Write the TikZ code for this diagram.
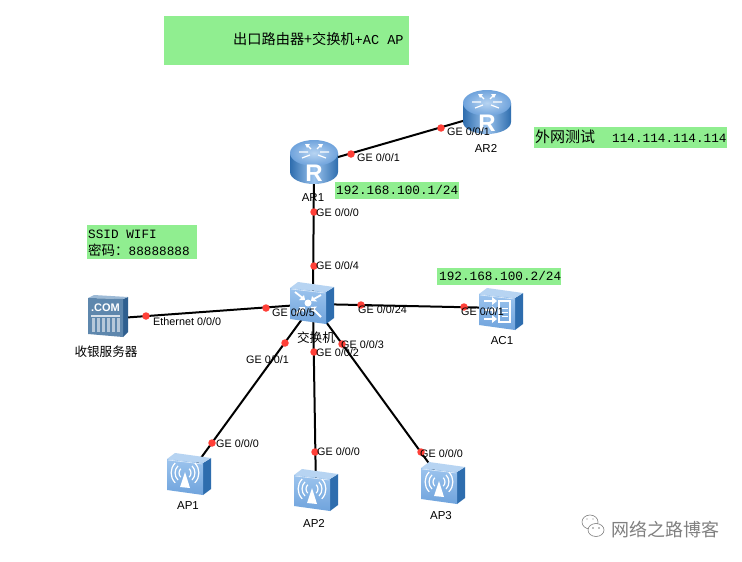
\documentclass[tikz,border=0pt]{standalone}
\usepackage{fontspec}
\setmainfont{Liberation Sans}
\setmonofont{Liberation Mono}
\newfontfamily\cjk{Noto Sans CJK SC}
\definecolor{bannergreen}{HTML}{90EE90}
\definecolor{portred}{HTML}{FF4038}
\definecolor{iconlight}{HTML}{9CC4EE}
\definecolor{iconmid}{HTML}{6FA3DC}
\definecolor{icondark}{HTML}{2E6DAE}
\definecolor{icontop}{HTML}{B7D4F2}
\definecolor{srvfront}{HTML}{5E87AD}
\definecolor{srvside}{HTML}{2F5F8F}
\definecolor{srvtop}{HTML}{9DBAD6}
\definecolor{wm}{HTML}{808080}
\tikzset{
  x=1pt,y=-1pt,
  devpoint/.style={inner sep=0pt,minimum size=0pt,outer sep=0pt},
  link/.style={line width=2pt,black},
  portdot/.style={circle,fill=portred,inner sep=0pt,minimum size=7.5pt},
  portlbl/.style={anchor=west,font=\fontsize{10.8}{12}\selectfont,inner sep=0pt,text=black},
  devlbl/.style={font=\fontsize{11.5}{13}\selectfont,inner sep=0pt,text=black},
  cjklbl/.style={font=\cjk\fontsize{12.6}{14}\selectfont,inner sep=0pt,text=black},
  notebox/.style={fill=bannergreen,draw=none},
  notetxt/.style={anchor=west,inner sep=0pt,font=\ttfamily\fontsize{12.7}{14}\selectfont,text=black},
  whiteline/.style={white,line width=1.3pt},
  router/.pic={
    \path[left color=icondark,right color=icondark,middle color=iconlight]
      (0,13) -- (0,32) arc[x radius=24,y radius=12,start angle=180,end angle=0] -- (48,13) -- cycle;
    \path[inner color=icontop,outer color=iconmid] (24,13) circle[x radius=24,y radius=13];
    \draw[white,line width=1.2pt]
      (17,5)--(21,9) (31,5)--(27,9) (9,12)--(18,12) (39,12)--(30,12)
      (12,18)--(20,15) (36,18)--(28,15);
    \fill[white] (15,4)--(20,4)--(17,8)--cycle (33,4)--(28,4)--(31,8)--cycle;
    \node[inner sep=0pt,text=white,font=\bfseries\fontsize{24}{24}\selectfont] at (24,33.5) {R};
  },
  cube/.pic={
    \fill[icondark] (36,10) -- (44,5) -- (44,36) -- (36,42) -- cycle;
    \fill[icontop] (0,6) -- (8,0) -- (44,5) -- (36,10) -- cycle;
    \path[top color=iconlight,bottom color=iconmid] (0,6) -- (36,10) -- (36,42) -- (0,37) -- cycle;
    \draw[white,opacity=.7,line width=.6pt] (1,7) -- (35,11);
  },
  apface/.pic={
    \fill[white] (18,19) -- (13,34) -- (23,35) -- cycle;
    \foreach \r in {6,10,14}{
      \draw[white,line width=1.2pt] (18,20)++(-\r*.7,\r*.7) arc[radius=\r,start angle=135,end angle=225];
      \draw[white,line width=1.2pt] (18,20)++(\r*.7,\r*.7) arc[radius=\r,start angle=45,end angle=-45];
    }
  },
}
\begin{document}
\begin{tikzpicture}
\useasboundingbox[fill=white] (0,0) rectangle (742,562);
% banner and notes
\fill[notebox] (164,16) rectangle (409,65);
\node[anchor=west,inner sep=0pt,font=\fontsize{14.2}{16}\selectfont] (title) at (233,39) {{\cjk 出口路由器+交换机}{\ttfamily\fontsize{13.6}{14}\selectfont +AC AP}};
\fill[notebox] (335,182) rectangle (459,199);
\node[notetxt] (ip1) at (336,190) {192.168.100.1/24};
\fill[notebox] (437,268) rectangle (561,285);
\node[notetxt] (ip2) at (439,276) {192.168.100.2/24};
\fill[notebox] (534,127) rectangle (727,148);
\node[notetxt,font=\cjk\fontsize{15}{16}\selectfont] (wan) at (535,137) {外网测试};
\node[notetxt] (wanip) at (612,138) {114.114.114.114};
\fill[notebox] (87,225) rectangle (197,259);
\node[notetxt] (ssid) at (88,234) {SSID WIFI};
\node[notetxt] (pwd) at (88,250) {{\cjk\fontsize{13.5}{14}\selectfont 密码：}88888888};
% connection points of the devices
\node[devpoint] (ar1) at (314,164) {};
\node[devpoint] (ar2) at (487,114) {};
\node[devpoint] (sw) at (313,304) {};
\node[devpoint] (ac1) at (501,308) {};
\node[devpoint] (srv) at (106,319) {};
\node[devpoint] (ap1) at (190,473) {};
\node[devpoint] (ap2) at (316,491) {};
\node[devpoint] (ap3) at (444,484) {};
% links
\draw[link] (ar1) -- (ar2);
\draw[link] (ar1) -- (sw);
\draw[link] (srv) -- (sw);
\draw[link] (sw) -- (ac1);
\draw[link] (sw) -- (ap1);
\draw[link] (sw) -- (ap2);
\draw[link] (sw) -- (ap3);
% routers
\pic at (290,140) {router};
\pic at (463,90) {router};
% switch
\pic at (290,282) {cube};
\begin{scope}[shift={(290,282)}]
  \fill[white] (18,21) circle[radius=3.5];
  \draw[whiteline,line width=1.8pt] (5,10)--(14,17) (31,13)--(22,18) (5,32)--(14,26) (31,35)--(22,26);
  \fill[white] (15,18)--(9,18)--(14,13)--cycle (21,19)--(27,19.5)--(22,14)--cycle (15,25)--(9,25)--(14,30)--cycle (21,25)--(27,24.5)--(22,30)--cycle;
\end{scope}
% AC
\pic at (479,288) {cube};
\begin{scope}[shift={(479,288)}]
  \draw[white,line width=1.4pt] (20,13) rectangle (31,34);
  \draw[white,line width=.9pt] (23,20)--(29,20) (23,24)--(29,24) (23,28)--(29,28);
  \draw[whiteline] (5,13)--(15,13) (5,22)--(15,22) (5,31)--(15,31);
  \fill[white] (13,9)--(18,13)--(13,17)--cycle (13,18)--(18,22)--(13,26)--cycle (13,27)--(18,31)--(13,35)--cycle;
\end{scope}
% server
\begin{scope}[shift={(88,295)}]
  \fill[srvside] (35,4) -- (40,2) -- (40,37) -- (35,42) -- cycle;
  \fill[srvtop] (0,3) -- (6,0) -- (40,2) -- (35,4) -- cycle;
  \fill[srvfront] (0,3) -- (35,4) -- (35,42) -- (0,39) -- cycle;
  \fill[white,opacity=.75] (3,20) rectangle (32,21.5);
  \foreach \x in {4,9,14,19,24,29}{\fill[white,opacity=.55] (\x,23) rectangle (\x+3,37);}
  \node[inner sep=0pt,text=white,font=\bfseries\fontsize{11}{12}\selectfont] (com) at (17.5,12.5) {.COM};
\end{scope}
% access points
\pic at (167,453) {cube};
\pic at (167,453) {apface};
\pic at (294,469) {cube};
\pic at (294,469) {apface};
\pic at (421,462) {cube};
\pic at (421,462) {apface};
% port dots
\node[portdot] (p1) at (351,154) {};
\node[portdot] (p2) at (441,128) {};
\node[portdot] (p3) at (314,212) {};
\node[portdot] (p4) at (314,266) {};
\node[portdot] (p5) at (146,316) {};
\node[portdot] (p6) at (266,308) {};
\node[portdot] (p7) at (361,305) {};
\node[portdot] (p8) at (464,307) {};
\node[portdot] (p9) at (285,343) {};
\node[portdot] (p10) at (314,352) {};
\node[portdot] (p11) at (342,344) {};
\node[portdot] (p12) at (212,443) {};
\node[portdot] (p13) at (315,452) {};
\node[portdot] (p14) at (421,452) {};
% port labels
\node[portlbl] (t1) at (357,158) {GE 0/0/1};
\node[portlbl] (t2) at (447,132) {GE 0/0/1};
\node[portlbl] (t3) at (316,213) {GE 0/0/0};
\node[portlbl] (t4) at (316,266) {GE 0/0/4};
\node[portlbl] (t5) at (153,322) {Ethernet 0/0/0};
\node[portlbl] (t6) at (272,313) {GE 0/0/5};
\node[portlbl] (t7) at (358,310) {GE 0/0/24};
\node[portlbl] (t8) at (461,312) {GE 0/0/1};
\node[portlbl] (t9) at (246,360) {GE 0/0/1};
\node[portlbl] (t10) at (316,353) {GE 0/0/2};
\node[portlbl] (t11) at (341,345) {GE 0/0/3};
\node[portlbl] (t12) at (216,444) {GE 0/0/0};
\node[portlbl] (t13) at (317,452) {GE 0/0/0};
\node[portlbl] (t14) at (420,454) {GE 0/0/0};
% device labels
\node[devlbl] (nar1) at (313,198) {AR1};
\node[devlbl] (nar2) at (486,148) {AR2};
\node[devlbl] (nac1) at (502,341) {AC1};
\node[devlbl] (nap1) at (188,506) {AP1};
\node[devlbl] (nap2) at (314,523) {AP2};
\node[devlbl] (nap3) at (441,516) {AP3};
\node[cjklbl] (nsw) at (316,338) {交换机};
\node[cjklbl] (nsrv) at (106,352) {收银服务器};
% watermark
\draw[wm,line width=.6pt,fill=white] (590,522) circle[x radius=8,y radius=7];
\draw[wm,line width=.6pt,fill=white] (596,530) circle[x radius=8,y radius=6.5];
\fill[wm] (593,528) circle[radius=.8] (599,528) circle[radius=.8] (587,519) circle[radius=.7] (593,519) circle[radius=.7];
\node[anchor=west,inner sep=0pt,text=wm,font=\cjk\fontsize{18}{20}\selectfont] (wmtext) at (611,530) {网络之路博客};
\end{tikzpicture}
\end{document}
